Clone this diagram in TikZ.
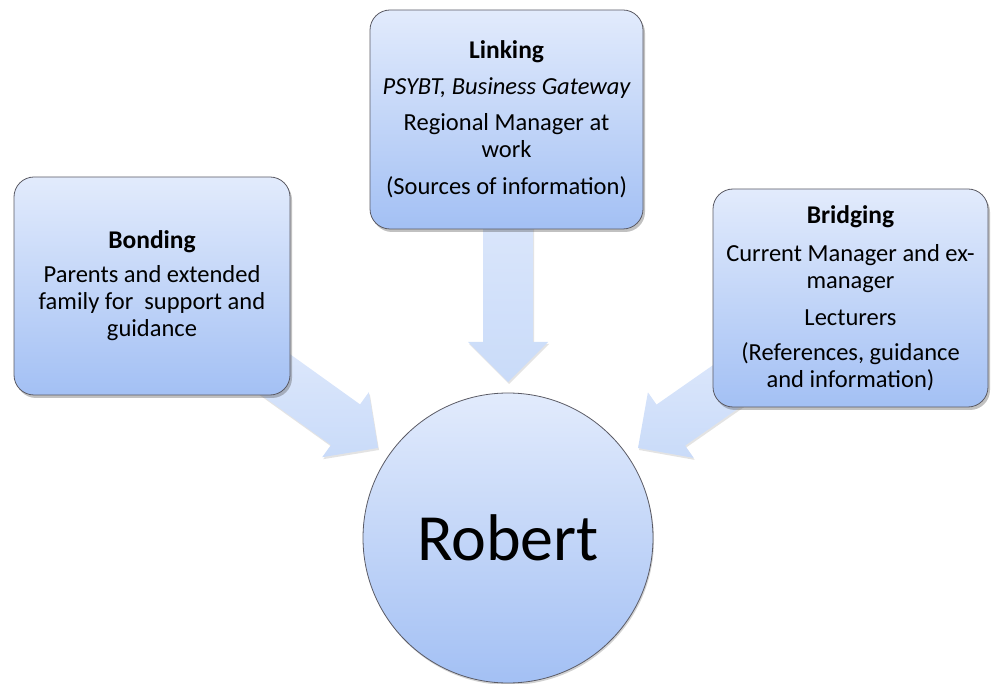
\documentclass[tikz,border=0pt]{standalone}
\usepackage{fontspec}
\setmainfont{Carlito}
\usetikzlibrary{calc,shadows,backgrounds}
\definecolor{boxtop}{RGB}{226,235,252}
\definecolor{boxbot}{RGB}{163,192,244}
\definecolor{arrtop}{RGB}{220,231,251}
\definecolor{arrbot}{RGB}{201,219,249}
\definecolor{edgec}{RGB}{90,90,100}
\newcommand{\blockarrow}[2]{%
  \coordinate (#2base) at ($(#2)!40pt!(#1)$);
  \path[arrowstyle] ($(#1)!25pt!90:(#2)$) -- ($(#2base)!25pt!-90:(#1)$) -- ($(#2base)!40pt!-90:(#1)$) -- (#2) -- ($(#2base)!40pt!90:(#1)$) -- ($(#2base)!25pt!90:(#1)$) -- ($(#1)!25pt!-90:(#2)$) -- cycle;}
\newcommand{\headtxt}[1]{{\fontsize{25.5}{27}\selectfont\bfseries #1}}
\tikzset{
  box/.style={draw=edgec, line width=0.8pt, rounded corners=20pt, top color=boxtop, bottom color=boxbot,
    align=center, font=\fontsize{24.5}{27}\selectfont, inner sep=4pt,
    drop shadow={shadow xshift=2pt, shadow yshift=-3pt, opacity=0.35, fill=black!70}},
  hub/.style={circle, draw=edgec, line width=0.8pt, top color=boxtop, bottom color=boxbot,
    minimum size=290pt, inner sep=0pt, font=\fontsize{66}{70}\selectfont,
    drop shadow={shadow xshift=1pt, shadow yshift=-2pt, opacity=0.25, fill=black!70}},
  arrowstyle/.style={top color=arrtop, bottom color=arrbot,
    drop shadow={shadow xshift=1pt, shadow yshift=-2pt, opacity=0.18, fill=black!60}}
}
\begin{document}
\begin{tikzpicture}[x=1pt, y=-1pt]
\useasboundingbox (0,0) rectangle (991,684);
\node[box, minimum width=273pt, minimum height=219pt] (lin) at (506.5,119.5)
  {\headtxt{Linking}\\[9pt] {\itshape PSYBT, Business Gateway}\\[9pt] Regional Manager at\\ work\\[10pt] (Sources of information)};
\node[box, minimum width=276pt, minimum height=218pt] (bond) at (152,286)
  {\headtxt{Bonding}\\[7pt] Parents and extended\\ family for\ \ support and\\ guidance};
\node[box, minimum width=275pt, minimum height=218pt] (bridge) at (850.5,298)
  {\headtxt{Bridging}\\[11pt] Current Manager and ex-\\ manager\\[10pt] Lecturers\\[8pt] (References, guidance\\ and information)};
\node[hub] (rob) at (508,538) {Robert};
\coordinate (s1) at (508,200);
\coordinate (t1) at (508,382);
\coordinate (s2) at (272,372);
\coordinate (t2) at (378,448);
\coordinate (s3) at (744,374);
\coordinate (t3) at (638,448);
\begin{scope}[on background layer]
  \blockarrow{s1}{t1}
  \blockarrow{s2}{t2}
  \blockarrow{s3}{t3}
\end{scope}
\end{tikzpicture}
\end{document}
